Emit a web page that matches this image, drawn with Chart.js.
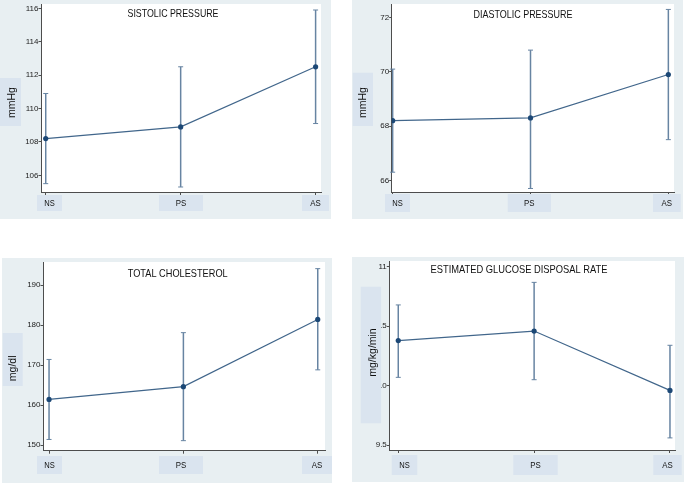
<!DOCTYPE html>
<html>
<head>
<meta charset="utf-8">
<script src="https://cdn.jsdelivr.net/npm/chart.js@4.4.1/dist/chart.umd.min.js"></script>
<style>
  body { margin: 0; background: #fff; }
  #wrap { position: relative; width: 685px; height: 484px; overflow: hidden; }
  canvas { position: absolute; }
</style>
</head>
<body>
<div id="wrap">
  <canvas id="systolicChart" width="331" height="219" style="left:0;top:0"></canvas>
  <canvas id="diastolicChart" width="331" height="219" style="left:352px;top:0"></canvas>
  <canvas id="cholesterolChart" width="330" height="225" style="left:2px;top:258px"></canvas>
  <canvas id="gdrChart" width="332" height="225" style="left:352px;top:257px"></canvas>
</div>
<script>
const categories = ['NS', 'PS', 'AS']

// mean with lower / upper bound of the bars
const systolicMean = [108.2, 108.9, 112.5]
const systolicLow = [105.5, 105.3, 109.1]
const systolicHigh = [110.9, 112.5, 115.9]
const systolicTicks = [106, 108, 110, 112, 114, 116]

const diastolicMean = [68.2, 68.3, 69.9]
const diastolicLow = [66.3, 65.7, 67.5]
const diastolicHigh = [70.1, 70.8, 72.3]
const diastolicTicks = [66, 68, 70, 72]

const cholesterolMean = [161.4, 164.6, 181.4]
const cholesterolLow = [151.4, 151.1, 168.8]
const cholesterolHigh = [171.4, 178.1, 194.1]
const cholesterolTicks = [150, 160, 170, 180, 190]

const gdrMean = [10.38, 10.46, 9.96]
const gdrLow = [10.07, 10.05, 9.56]
const gdrHigh = [10.68, 10.87, 10.34]
const gdrTicks = [9.5, 10, 10.5, 11]

const PANEL_BG = '#e8eff2'
const BOX_BG = '#dae4ef'
const AXIS = '#4d4d4d'
const LINE = '#41668b'
const POINT = '#1c4876'
const ERR = '#6784a2'
const TEXT_FONT = '"Liberation Sans", sans-serif'

const panelPlugin = {
  id: 'panel',
  beforeDraw(chart, args, o) {
    const { ctx, chartArea: a } = chart
    ctx.save()
    ctx.fillStyle = PANEL_BG
    ctx.fillRect(0, 0, chart.width, chart.height)
    ctx.fillStyle = '#fff'
    ctx.fillRect(a.left, a.top, a.right - a.left, a.bottom - a.top)
    ctx.restore()
  },
  beforeDatasetsDraw(chart, args, o) {
    const { ctx } = chart
    const xs = chart.scales.x
    const ys = chart.scales.y
    ctx.save()
    ctx.strokeStyle = ERR
    o.low.forEach((lo, i) => {
      const x = xs.getPixelForValue(i)
      const yLo = ys.getPixelForValue(lo)
      const yHi = ys.getPixelForValue(o.high[i])
      ctx.lineWidth = 1.5
      ctx.beginPath()
      ctx.moveTo(x, yLo)
      ctx.lineTo(x, yHi)
      ctx.stroke()
      ctx.lineWidth = 1
      ctx.beginPath()
      ctx.moveTo(x - 2.5, yLo)
      ctx.lineTo(x + 2.5, yLo)
      ctx.moveTo(x - 2.5, yHi)
      ctx.lineTo(x + 2.5, yHi)
      ctx.stroke()
    })
    ctx.restore()
  },
  afterDraw(chart, args, o) {
    const { ctx } = chart
    ctx.save()
    ctx.fillStyle = '#111'
    ctx.textAlign = 'center'
    ctx.textBaseline = 'middle'
    // the titles use a narrow face, squeeze to the same width
    ctx.font = '10.5px ' + TEXT_FONT
    ctx.fillText(o.title, o.titlePos[0], o.titlePos[1], o.titleWidth)

    // y axis title box
    const b = o.yBox
    ctx.fillStyle = BOX_BG
    ctx.fillRect(b[0], b[1], b[2], b[3])
    ctx.fillStyle = '#111'
    ctx.save()
    ctx.translate(o.yTextPos[0], o.yTextPos[1])
    ctx.rotate(-Math.PI / 2)
    ctx.font = '10.5px ' + TEXT_FONT
    ctx.fillText(o.yTitle, 0, 0)
    ctx.restore()

    // category label boxes
    ctx.font = '8.5px ' + TEXT_FONT
    categories.forEach((c, i) => {
      const [x0, x1] = o.xBoxes[i]
      ctx.fillStyle = BOX_BG
      ctx.fillRect(x0, o.xBoxY[0], x1 - x0, o.xBoxY[1] - o.xBoxY[0])
      ctx.fillStyle = '#111'
      ctx.fillText(c, (x0 + x1) / 2, (o.xBoxY[0] + o.xBoxY[1]) / 2 + 0.5, 10.5)
    })
    ctx.restore()
  },
}

function makeChart(id, p) {
  const canvas = document.getElementById(id)
  const a = p.area
  new Chart(canvas.getContext('2d'), {
    type: 'line',
    data: {
      datasets: [
        {
          data: p.mean.map((v, i) => ({ x: i, y: v })),
          borderColor: LINE,
          borderWidth: 1.2,
          pointRadius: 2.6,
          pointBackgroundColor: POINT,
          pointBorderWidth: 0,
          tension: 0,
        },
      ],
    },
    options: {
      responsive: false,
      animation: false,
      layout: { padding: { top: a.top, right: canvas.width - a.right, left: 0, bottom: 0 } },
      scales: {
        x: {
          type: 'linear',
          min: p.xRange[0],
          max: p.xRange[1],
          afterBuildTicks: (s) => { s.ticks = categories.map((c, i) => ({ value: i })) },
          afterFit: (s) => { s.height = canvas.height - a.bottom; s.paddingLeft = 0; s.paddingRight = 0 },
          ticks: { display: false },
          grid: { drawOnChartArea: false, drawTicks: true, tickLength: 3, color: AXIS },
          border: { color: AXIS },
        },
        y: {
          min: p.yRange[0],
          max: p.yRange[1],
          afterBuildTicks: (s) => { s.ticks = p.ticks.map((v) => ({ value: v })) },
          afterFit: (s) => { s.width = a.left; s.paddingTop = 0; s.paddingBottom = 0 },
          ticks: {
            font: { size: 8, family: 'Liberation Sans' },
            color: '#222',
            padding: 0,
            callback: (v) => String(v),
          },
          grid: { drawOnChartArea: false, tickLength: 2.5, color: AXIS },
          border: { color: AXIS },
        },
      },
      plugins: {
        legend: { display: false },
        tooltip: { enabled: false },
        panel: {
          low: p.low,
          high: p.high,
          title: p.title,
          titlePos: p.titlePos,
          titleWidth: p.titleWidth,
          yTitle: p.yTitle,
          yBox: p.yBox,
          yTextPos: p.yTextPos,
          xBoxes: p.xBoxes,
          xBoxY: p.xBoxY,
        },
      },
    },
    plugins: [panelPlugin],
  })
}

makeChart('systolicChart', {
  mean: systolicMean, low: systolicLow, high: systolicHigh, ticks: systolicTicks,
  area: { left: 41, top: 3, right: 321, bottom: 192 },
  xRange: [-0.035, 2.04], yRange: [105, 116.26],
  title: 'SISTOLIC PRESSURE', titlePos: [173, 14.5], titleWidth: 91,
  yTitle: 'mmHg', yBox: [0, 78, 21, 48], yTextPos: [12.5, 102.5],
  xBoxes: [[37, 62], [159, 203], [302, 329]], xBoxY: [195, 211],
})

makeChart('diastolicChart', {
  mean: diastolicMean, low: diastolicLow, high: diastolicHigh, ticks: diastolicTicks,
  area: { left: 39.7, top: 3, right: 322, bottom: 192 },
  xRange: [-0.007, 2.041], yRange: [65.57, 72.5],
  title: 'DIASTOLIC PRESSURE', titlePos: [171, 15.5], titleWidth: 99,
  yTitle: 'mmHg', yBox: [0.7, 72.7, 20.3, 53.3], yTextPos: [11.3, 102.5],
  xBoxes: [[33, 58], [155.7, 199], [301, 328.7]], xBoxY: [194, 212],
})

makeChart('cholesterolChart', {
  mean: cholesterolMean, low: cholesterolLow, high: cholesterolHigh, ticks: cholesterolTicks,
  area: { left: 41, top: 2, right: 323, bottom: 192.7 },
  xRange: [-0.045, 2.054], yRange: [148.59, 195.76],
  title: 'TOTAL CHOLESTEROL', titlePos: [175.7, 16.5], titleWidth: 100,
  yTitle: 'mg/dl', yBox: [0.7, 75, 20, 53], yTextPos: [11.3, 110.3],
  xBoxes: [[35, 60], [157, 201], [300, 330]], xBoxY: [198, 216],
})

makeChart('gdrChart', {
  mean: gdrMean, low: gdrLow, high: gdrHigh, ticks: gdrTicks,
  area: { left: 37.3, top: 2, right: 323, bottom: 193 },
  xRange: [-0.066, 2.037], yRange: [9.458, 11.05],
  title: 'ESTIMATED GLUCOSE DISPOSAL RATE', titlePos: [167, 13.5], titleWidth: 177,
  yTitle: 'mg/kg/min', yBox: [8.7, 29.7, 20.4, 136.6], yTextPos: [21, 95.5],
  xBoxes: [[39.7, 65.3], [161.3, 205.7], [301.3, 329.7]], xBoxY: [198, 218],
})
</script>
</body>
</html>
